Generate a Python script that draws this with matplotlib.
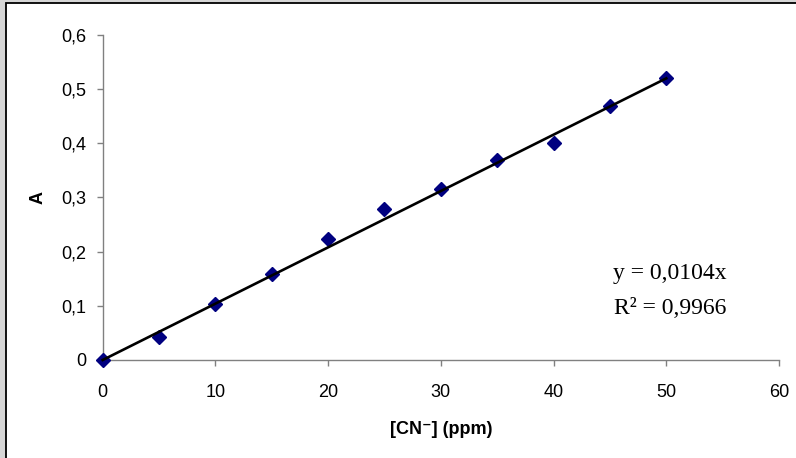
import matplotlib.pyplot as plt
from matplotlib.patches import Rectangle

# calibration data: cyanide concentration vs absorbance
conc_ppm = [0, 5, 10, 15, 20, 25, 30, 35, 40, 45, 50]
absorbance = [0, 0.042, 0.104, 0.158, 0.224, 0.279, 0.316, 0.370, 0.400, 0.468, 0.520]
slope = 0.0104
r_squared = 0.9966
x_ticks = [0, 10, 20, 30, 40, 50, 60]
y_ticks = [0, 0.1, 0.2, 0.3, 0.4, 0.5, 0.6]

W, H = 796, 458
fig = plt.figure(figsize=(W / 100, H / 100), dpi=100)
fig.patch.set_facecolor('#d6d6d6')

# white chart area with black frame, running off the right/bottom edges
frame = Rectangle((6 / W, -10 / H), (W + 20) / W, (H + 7) / H,
                  transform=fig.transFigure, facecolor='white',
                  edgecolor='black', linewidth=1.3, zorder=-10)
fig.patches.append(frame)

ax = fig.add_axes([102.7 / W, (H - 360) / H, (779 - 102.7) / W, (360 - 35) / H])
ax.patch.set_alpha(0)

fit_x = [conc_ppm[0], conc_ppm[-1]]
fit_y = [slope * v for v in fit_x]
ax.plot(conc_ppm, absorbance, linestyle='none', marker='D', markersize=7,
        color='#000080', zorder=3, clip_on=False)
ax.plot(fit_x, fit_y, color='black', linewidth=1.9, zorder=4, clip_on=False)

ax.set_xlim(0, 60)
ax.set_ylim(0, 0.6)
ax.set_xticks(x_ticks)
ax.set_yticks(y_ticks)
ax.set_yticklabels([('%g' % t).replace('.', ',') for t in y_ticks])

for lbl in ax.get_xticklabels() + ax.get_yticklabels():
    lbl.set_fontfamily('Liberation Sans')
    lbl.set_fontsize(13)

for side in ['top', 'right']:
    ax.spines[side].set_visible(False)
for side in ['left', 'bottom']:
    ax.spines[side].set_color('#808080')
    ax.spines[side].set_linewidth(1.0)
ax.tick_params(direction='out', length=4, width=1.0, color='#808080', pad=8)
ax.tick_params(axis='x', pad=13)

ax.set_xlabel('[CN\u207b] (ppm)', fontfamily=['Liberation Sans', 'DejaVu Sans'],
              fontsize=13, fontweight='bold', labelpad=15)
ax.set_ylabel('A', fontfamily='Liberation Sans', fontsize=13,
              fontweight='bold', labelpad=10)

eq1 = 'y = ' + ('%.4f' % slope).replace('.', ',') + 'x'
eq2 = 'R\u00b2 = ' + ('%.4f' % r_squared).replace('.', ',')
fig.text(670 / W, (H - 273) / H, eq1,
         fontfamily='Liberation Serif', fontsize=17, ha='center', va='center')
fig.text(670 / W, (H - 308) / H, eq2,
         fontfamily='Liberation Serif', fontsize=17, ha='center', va='center')

fig.savefig('out.png', dpi=100, facecolor=fig.get_facecolor())
